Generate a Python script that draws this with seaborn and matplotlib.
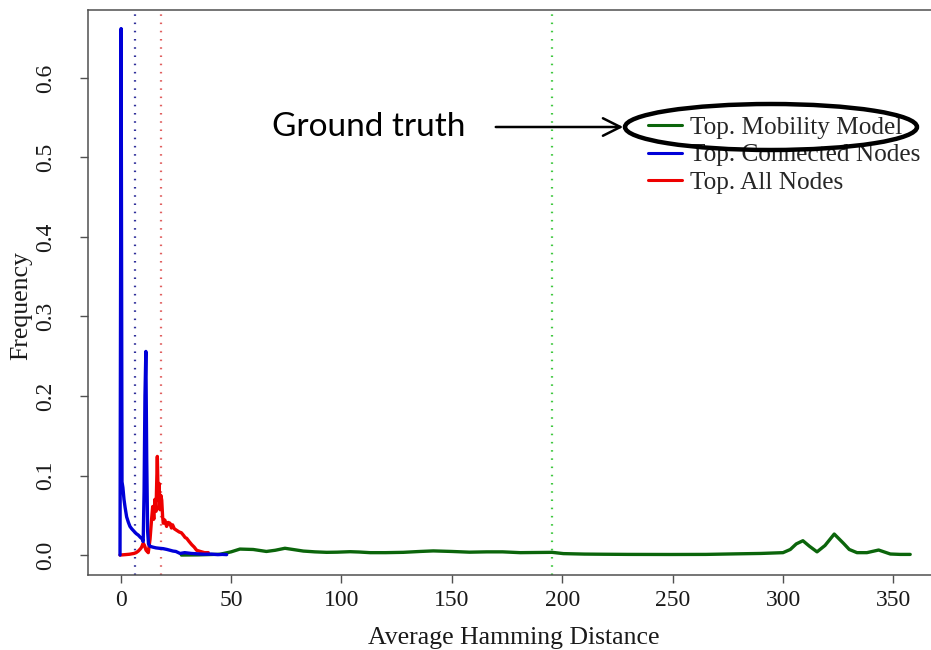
import numpy as np
import pandas as pd
import matplotlib
matplotlib.use("Agg")
import matplotlib.pyplot as plt
import seaborn as sns
from matplotlib.patches import Ellipse

# ---------------- data ----------------
series_names = ["Top. Mobility Model", "Top. Connected Nodes", "Top. All Nodes"]

mobility_x = [27.5, 35, 45, 50, 54, 60, 66, 70, 74.4, 78, 82.7, 88, 93.3, 98, 103.9, 108, 113, 120,
              128, 135.6, 141.6, 150, 158, 165.8, 173, 181, 188, 195.4, 200.5, 210, 218.6, 230, 249,
              265, 279, 290, 300, 303.3, 306, 309, 312, 315.4, 319, 323.2, 327.4, 330, 333.5, 338,
              343.3, 348.6, 353, 357.6]
mobility_y = [0.0, 0.0002, 0.001, 0.004, 0.0075, 0.007, 0.0045, 0.006, 0.0085, 0.007, 0.005, 0.004,
              0.0034, 0.0036, 0.0042, 0.0038, 0.003, 0.003, 0.0034, 0.0045, 0.0052, 0.0045, 0.0036,
              0.004, 0.004, 0.003, 0.0032, 0.0034, 0.0018, 0.0012, 0.001, 0.0008, 0.0007, 0.0008,
              0.0015, 0.002, 0.003, 0.007, 0.014, 0.018, 0.011, 0.004, 0.012, 0.0264, 0.0147, 0.007,
              0.003, 0.003, 0.0063, 0.0013, 0.0008, 0.0008]

connected_x = [-0.3, 0.2, 0.6, 1.0, 1.5, 2.0, 2.7, 3.5, 4.2, 5.0, 6.0, 7.0, 8.0, 9.0, 9.6, 10.2,
               10.6, 11.0, 11.4, 11.8, 12.2, 12.6, 13.3, 14.5, 16, 17.5, 19.3, 21, 23.7, 25, 26.9,
               29, 32, 35, 38, 41, 44, 46, 48]
connected_y = [0.0, 0.662, 0.092, 0.085, 0.07, 0.06, 0.048, 0.041, 0.036, 0.033, 0.030, 0.027,
               0.025, 0.022, 0.021, 0.017, 0.08, 0.20, 0.256, 0.12, 0.03, 0.014, 0.011, 0.010,
               0.009, 0.0085, 0.008, 0.007, 0.005, 0.0045, 0.002, 0.003, 0.002, 0.0015, 0.001,
               0.0012, 0.0005, 0.0008, 0.0005]

allnodes_x = [-0.3, 2, 4, 6, 7, 8, 9, 9.5, 10.2, 10.8, 11.5, 12.5, 13.3, 14.0, 14.5, 15.0, 15.5,
              16.0, 16.6, 17.0, 17.4, 17.8, 18.2, 18.6, 19.0, 19.3, 20.0, 20.8, 21.5, 22.3, 23.0,
              23.5, 24.3, 25.4, 26.5, 27.5, 28.4, 29.2, 29.9, 31.0, 32.2, 33.3, 34.4, 35.5, 36.7,
              38, 39.7]
allnodes_y = [0.0, 0.0005, 0.001, 0.002, 0.003, 0.005, 0.008, 0.010, 0.015, 0.012, 0.006, 0.003,
              0.02, 0.045, 0.061, 0.045, 0.07, 0.055, 0.124, 0.069, 0.09, 0.057, 0.075, 0.069,
              0.048, 0.040, 0.044, 0.036, 0.041, 0.040, 0.034, 0.038, 0.033, 0.031, 0.029, 0.028,
              0.025, 0.022, 0.021, 0.017, 0.013, 0.010, 0.006, 0.005, 0.004, 0.003, 0.003]

mean_lines = {"Top. Mobility Model": 195.4, "Top. Connected Nodes": 6.5, "Top. All Nodes": 18.3}

x_ticks = [0, 50, 100, 150, 200, 250, 300, 350]
y_ticks = [0.0, 0.1, 0.2, 0.3, 0.4, 0.5, 0.6]
y_tick_labels = ["0.0", "0.1", "0.2", "0.3", "0.4", "0.5", "0.6"]
x_label = "Average Hamming Distance"
y_label = "Frequency"
annotation_text = "Ground truth"

# ---------------- style ----------------
sns.set_theme(style="white")
plt.rcParams["font.family"] = ["Liberation Serif", "DejaVu Serif"]

curve_colors = {"Top. Mobility Model": "#0b650b",
                "Top. Connected Nodes": "#0000d8",
                "Top. All Nodes": "#ee0000"}
dot_colors = {"Top. Mobility Model": "#40c840",
              "Top. Connected Nodes": "#30309a",
              "Top. All Nodes": "#e06060"}
zorders = {"Top. Mobility Model": 3, "Top. Connected Nodes": 5, "Top. All Nodes": 4}

W, H = 931, 650
fig = plt.figure(figsize=(W / 100, H / 100), dpi=100)
ax = fig.add_axes([88 / W, (H - 575) / H, (940 - 88) / W, (575 - 9.5) / H])

data = {
    "Top. Mobility Model": (mobility_x, mobility_y),
    "Top. Connected Nodes": (connected_x, connected_y),
    "Top. All Nodes": (allnodes_x, allnodes_y),
}

for name in series_names:
    xs, ys = data[name]
    df = pd.DataFrame({"x": xs, "y": ys})
    sns.lineplot(data=df, x="x", y="y", ax=ax, color=curve_colors[name], lw=2.4,
                 sort=False, estimator=None, label=name, zorder=zorders[name])

for name in series_names:
    ax.axvline(mean_lines[name], color=dot_colors[name], lw=1.6,
               linestyle=(0, (0.7, 3.0)), zorder=2)

ax.set_xlim(-14.8, 371.1)
ax.set_ylim(-0.0251, 0.686)
ax.set_xticks(x_ticks)
ax.set_xticklabels([str(t) for t in x_ticks])
ax.set_yticks(y_ticks)
ax.set_yticklabels(y_tick_labels)

for side in ["left", "bottom", "top", "right"]:
    ax.spines[side].set_color("#505050")
    ax.spines[side].set_linewidth(1.1)

ax.tick_params(axis="both", which="major", direction="out", length=6, width=1.0,
               color="#505050", labelsize=17, labelcolor="#1a1a1a")
ax.tick_params(axis="x", pad=5, bottom=True)
ax.tick_params(axis="y", pad=17, left=True, labelrotation=90)
for lab in ax.get_yticklabels():
    lab.set_verticalalignment("center")

ax.set_xlabel(x_label, fontsize=18.5, color="#1a1a1a", labelpad=11)
ax.set_ylabel(y_label, fontsize=18.5, color="#1a1a1a")
ax.yaxis.set_label_coords(-(88 - 32) / (940 - 88), (575 - 306) / (575 - 9.5))

leg = ax.legend(loc="upper left", bbox_to_anchor=(648 / W, 1 - 116 / H),
                bbox_transform=fig.transFigure, frameon=False, fontsize=18.2,
                handlelength=1.35, handletextpad=0.3, labelspacing=0.2,
                borderpad=0, borderaxespad=0)
for line in leg.get_lines():
    line.set_linewidth(2.2)

# annotation: ground truth arrow and ellipse
fig.text(272 / W, 1 - 127 / H, annotation_text, fontsize=24, family=["Lato", "DejaVu Sans"],
         ha="left", va="center", color="black")
fig.add_artist(matplotlib.patches.FancyArrowPatch(
    (493 / W, 1 - 127 / H), (626 / W, 1 - 127 / H), transform=fig.transFigure,
    arrowstyle="->,head_length=0.9,head_width=0.45", lw=1.8, color="black",
    mutation_scale=14))
fig.add_artist(Ellipse((771 / W, 1 - 127 / H), 292 / W, 46 / H, transform=fig.transFigure,
                       fill=False, edgecolor="black", lw=3.2, zorder=10))

fig.savefig("out.png", dpi=100)
